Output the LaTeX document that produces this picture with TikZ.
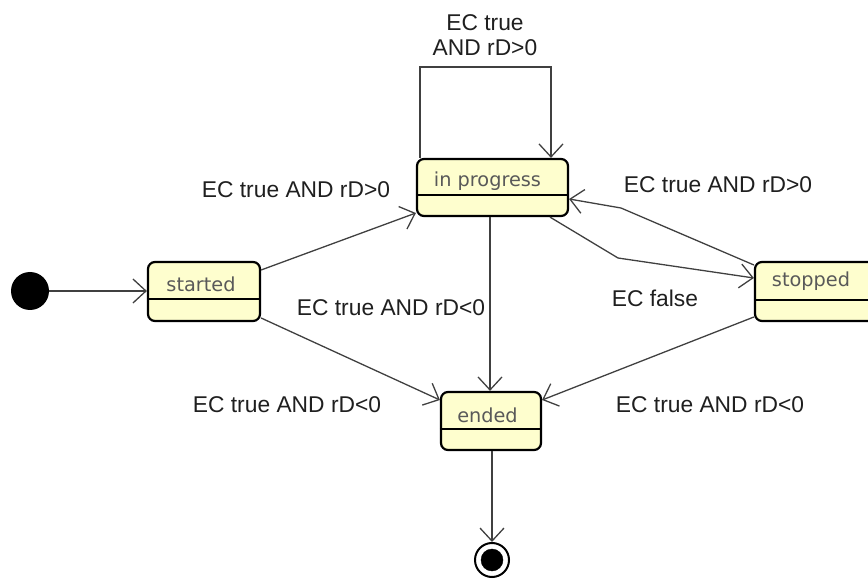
\documentclass[tikz,border=0pt]{standalone}
\usepackage{fontspec}
\setmainfont{Liberation Sans}
\newfontfamily\statefont{DejaVu Sans}
\usetikzlibrary{calc,arrows.meta,positioning}

\definecolor{statefill}{HTML}{FEFECE}
\definecolor{edgegray}{HTML}{404040}

\tikzset{
  state/.style={draw=black, line width=2.2pt, rounded corners=7pt, fill=statefill, inner sep=0pt},
  sname/.style={font=\statefont\fontsize{19.3}{22}\selectfont, text=black!65, inner sep=0pt},
  lbl/.style={font=\fontsize{22.8}{25}\selectfont, text=black!88, align=center, inner sep=0pt},
  trans/.style={draw=edgegray, line width=1.3pt, -{Straight Barb[length=13pt,width=24pt,line width=1.3pt]}}
}

\begin{document}
\begin{tikzpicture}[x=1pt,y=-1pt]
\useasboundingbox (0,0) rectangle (868,580);

% the states
\node[state, minimum width=151pt, minimum height=57pt] (prog) at (492.5,187.5) {};
\node[state, minimum width=112pt, minimum height=59pt] (start) at (204,291.5) {};
\node[state, minimum width=100pt, minimum height=58pt] (ended) at (491,421) {};
\node[state, minimum width=125pt, minimum height=59pt] (stop) at (817.5,291.5) {};

\draw[line width=1.5pt] (prog.west |- 0,195) -- (prog.east |- 0,195);
\draw[line width=1.5pt] (start.west |- 0,299) -- (start.east |- 0,299);
\draw[line width=1.5pt] (ended.west |- 0,429) -- (ended.east |- 0,429);
\draw[line width=1.5pt] (stop.west |- 0,300) -- (stop.east |- 0,300);

\node[sname, anchor=base] (proglbl) at (487.5,187) {in progress};
\node[sname, anchor=base] (startlbl) at (201,291) {started};
\node[sname, anchor=base] (endedlbl) at (487.5,422) {ended};
\node[sname, anchor=base] (stoplbl) at (811,287) {stopped};

% start and end points
\node[circle, fill=black, minimum size=38pt, inner sep=0pt] (init) at (30,291) {};
\node[circle, draw=black, line width=2pt, minimum size=34pt, inner sep=0pt] (final) at (492,560) {};
\filldraw (final) circle[radius=11pt];

% the arrows
\draw[trans] (init.east) -- (start.west |- init.east);
\draw[trans] (start.east |- 0,270) -- (prog.west |- 0,213);
\draw[trans] (start.east |- 0,318) -- (ended.west |- 0,400);
\draw[trans] (prog.south -| 490,0) -- (ended.north -| 490,0);
\draw[trans] (prog.north -| 420,0) |- (551,67) -- (prog.north -| 551,0);
\draw[trans] (stop.west |- 0,265) -- (621,208) -- (prog.east |- 0,199);
\draw[trans] (prog.south -| 550,0) -- (618,258) -- (stop.west |- 0,278);
\draw[trans] (stop.west |- 0,317) -- (ended.east |- 0,400);
\draw[trans] (ended.south -| 492,0) -- (final.north);

% labels
\node[lbl] (lblinprog) at (296,190) {EC true AND rD>0};
\node[lbl] (lblloop) at (485,35) {EC true\\AND rD>0};
\node[lbl] (lblback) at (718,185) {EC true AND rD>0};
\node[lbl] (lblfalse) at (655,298) {EC false};
\node[lbl] (lblmid) at (391,308) {EC true AND rD<0};
\node[lbl] (lblleft) at (287,405) {EC true AND rD<0};
\node[lbl] (lblright) at (710,405) {EC true AND rD<0};

\end{tikzpicture}
\end{document}
